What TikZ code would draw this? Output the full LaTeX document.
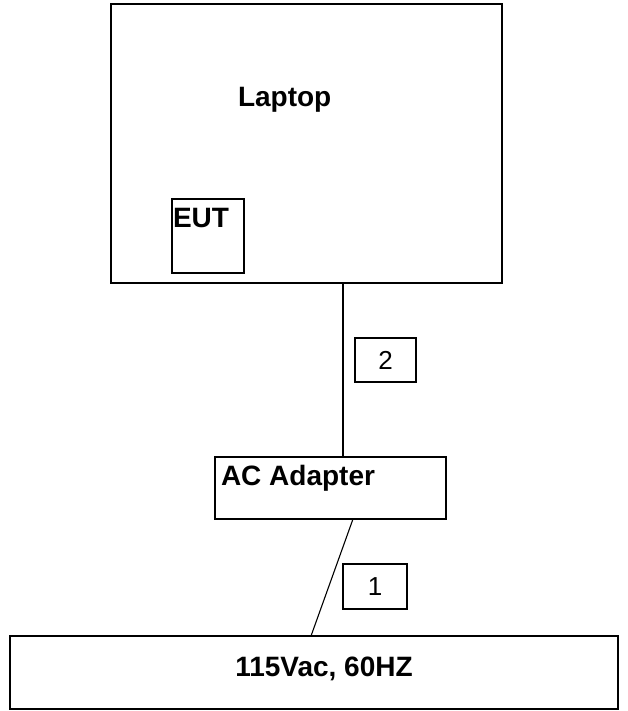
\documentclass[tikz,border=0pt]{standalone}
\usepackage{fontspec}
\setmainfont{Liberation Sans}
\begin{document}
\begin{tikzpicture}[x=1pt,y=-1pt,
  box/.style={draw=black,line width=1.3pt,rectangle,inner sep=0pt,outer sep=0pt},
  thickbox/.style={box,line width=2.6pt},
  numbox/.style={box,line width=1.1pt},
  lbl/.style={inner sep=0pt,outer sep=0pt,anchor=base west,font=\fontsize{28}{30}\selectfont\bfseries},
  numlbl/.style={inner sep=0pt,outer sep=0pt,anchor=base,font=\fontsize{26}{28}\selectfont},
  wire/.style={draw=black,line width=1.1pt}]
\useasboundingbox (0,0) rectangle (627,711);
% boxes
\node[box,minimum width=391pt,minimum height=279pt] (laptop) at (306.5,143.5) {};
\node[thickbox,minimum width=72pt,minimum height=74pt] (eut) at (208,236) {};
\node[box,minimum width=231pt,minimum height=62pt] (adapter) at (330.5,488) {};
\node[box,minimum width=608pt,minimum height=73pt] (mains) at (314,672.5) {};
\node[numbox,minimum width=61pt,minimum height=44pt] (cbl2) at (385.5,360) {};
\node[numbox,minimum width=64pt,minimum height=45pt] (cbl1) at (375,586.5) {};
% texts
\node[lbl] (laptoptxt) at (238,107) {Laptop};
\node[lbl] (euttxt) at (173,227) {EUT};
\node[lbl] (adaptertxt) at (221,485) {AC Adapter};
\node[lbl,anchor=base] (mainstxt) at (324,676) {115Vac, 60HZ};
\node[numlbl] (two) at (385.5,369) {2};
\node[numlbl] (one) at (375,595) {1};
% connectors
\coordinate (c2a) at (laptop.south -| 343,0);
\coordinate (c2b) at (adapter.north -| 343,0);
\draw[wire] (c2a) -- (c2b);
\coordinate (c1a) at (adapter.south -| 353,0);
\coordinate (c1b) at (mains.north -| 311,0);
\draw[wire] (c1a) -- (c1b);
\end{tikzpicture}
\end{document}
